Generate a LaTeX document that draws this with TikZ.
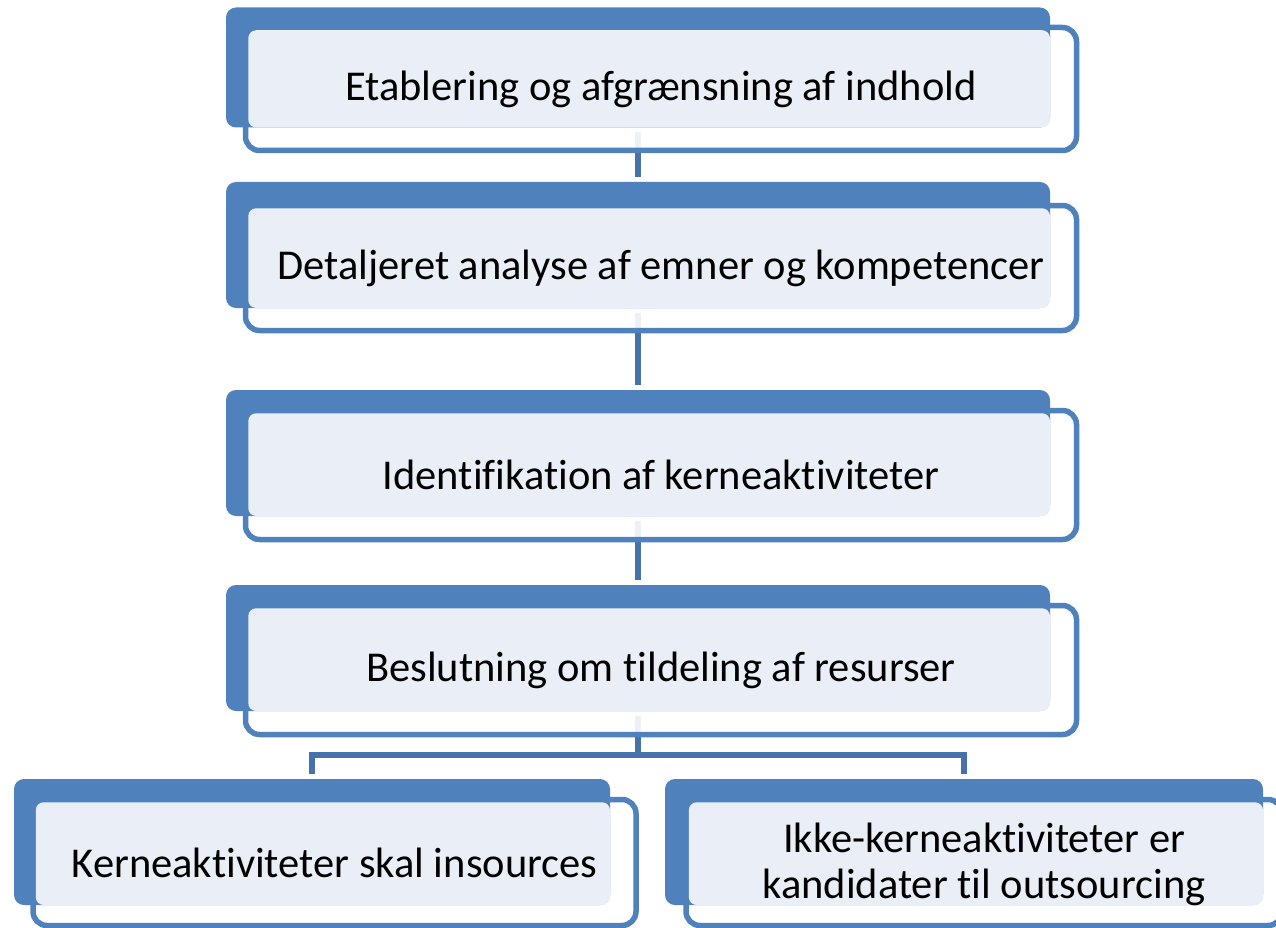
\documentclass[tikz,border=0pt]{standalone}
\usepackage{fontspec}
\setmainfont{Carlito}[Ligatures=NoCommon]
\definecolor{stepblue}{HTML}{4F81BD}
\definecolor{steplight}{HTML}{EAEFF7}
\definecolor{linkblue}{HTML}{4672AC}
\pgfdeclarelayer{bg}
\pgfsetlayers{bg,main}

\begin{document}
\begin{tikzpicture}[x=1pt,y=-1pt,
  stepframe/.style={draw=stepblue,line width=5.5pt,fill=white,fill opacity=0.9,rounded corners=14pt,inner sep=0pt,outer sep=0pt},
  steptab/.style={fill=stepblue,rounded corners=10pt,inner sep=0pt,outer sep=0pt},
  stepface/.style={fill=steplight,rounded corners=8pt},
  steptext/.style={font=\fontsize{42.5}{46}\selectfont,align=center,inner sep=0pt},
  steplink/.style={draw=linkblue,line width=5.5pt,shorten <=5pt,shorten >=5pt}]
\useasboundingbox (0,0) rectangle (1276,928);

% step 1
\node[stepframe,minimum width=831pt,minimum height=123pt] (o1) at (661,89) {};
\node[steptab,minimum width=824pt,minimum height=120pt] (b1) at (638,67.5) {};
\fill[stepface] ([shift={(2.75,2.75)}]o1.north west) rectangle (b1.south east);
\node[steptext] (t1) at (o1) {Etablering og afgrænsning af indhold};

% step 2
\node[stepframe,minimum width=831pt,minimum height=125pt] (o2) at (661,268) {};
\node[steptab,minimum width=824pt,minimum height=126pt] (b2) at (638,245) {};
\fill[stepface] ([shift={(2.75,2.75)}]o2.north west) rectangle (b2.south east);
\node[steptext] (t2) at (o2) {Detaljeret analyse af emner og kompetencer};

% step 3
\node[stepframe,minimum width=831pt,minimum height=129pt] (o3) at (661,475) {};
\node[steptab,minimum width=824pt,minimum height=126pt] (b3) at (638,453) {};
\fill[stepface] ([shift={(2.75,2.75)}]o3.north west) rectangle (b3.south east);
\node[steptext] (t3) at (o3) {Identifikation af kerneaktiviteter};

% step 4
\node[stepframe,minimum width=831pt,minimum height=129pt] (o4) at (661,670) {};
\node[steptab,minimum width=824pt,minimum height=126pt] (b4) at (638,648) {};
\fill[stepface] ([shift={(2.75,2.75)}]o4.north west) rectangle (b4.south east);
\node[steptext] (t4) at (o4) {Beslutning om tildeling af resurser};

% outcomes
\node[stepframe,minimum width=603pt,minimum height=126pt] (o5) at (334.5,862.5) {};
\node[steptab,minimum width=596pt,minimum height=126pt] (b5) at (312,842) {};
\fill[stepface] ([shift={(2.75,2.75)}]o5.north west) rectangle (b5.south east);
\node[steptext] (t5) at (o5) {Kerneaktiviteter skal insources};

\node[stepframe,minimum width=596pt,minimum height=126pt] (o6) at (984,862.5) {};
\node[steptab,minimum width=598pt,minimum height=126pt] (b6) at (964,842) {};
\fill[stepface] ([shift={(2.75,2.75)}]o6.north west) rectangle (b6.south east);
\node[steptext] (t6) at ([yshift=-2pt]o6) {Ikke-kerneaktiviteter er\\kandidater til outsourcing};

\coordinate (split) at (638,755);

\begin{pgfonlayer}{bg}
\draw[steplink] (b1.south) -- (b2.north);
\draw[steplink] (b2.south) -- (b3.north);
\draw[steplink] (b3.south) -- (b4.north);
\draw[steplink,shorten >=0pt] (b4.south) -- (split);
\draw[steplink] (b5.north) |- (split) -| (b6.north);
\end{pgfonlayer}
\end{tikzpicture}
\end{document}
